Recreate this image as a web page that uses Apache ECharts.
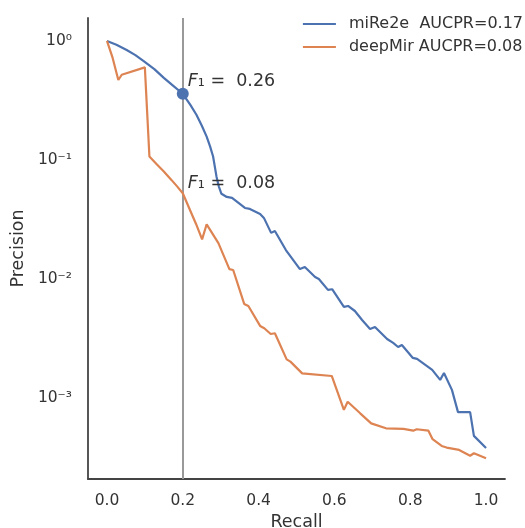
<!DOCTYPE html>
<html>
<head>
<meta charset="utf-8">
<script src="https://cdn.jsdelivr.net/npm/echarts@6/dist/echarts.min.js"></script>
<style>html,body{margin:0;padding:0;background:#fff;}#chart{width:525px;height:528px;}</style>
</head>
<body>
<div id="chart"></div>
<script>
// ---- data ----
const seriesNames = ['miRe2e  AUCPR=0.17', 'deepMir AUCPR=0.08'];
const recallBlue = [0, 0.025, 0.052, 0.075, 0.096, 0.125, 0.15, 0.175, 0.2, 0.22, 0.236, 0.25, 0.263, 0.272, 0.280, 0.289, 0.295, 0.302, 0.316, 0.330, 0.332, 0.364, 0.377, 0.404, 0.414, 0.433, 0.443, 0.472, 0.509, 0.522, 0.549, 0.559, 0.583, 0.594, 0.625, 0.636, 0.654, 0.673, 0.694, 0.707, 0.739, 0.755, 0.768, 0.778, 0.807, 0.818, 0.858, 0.879, 0.889, 0.910, 0.926, 0.958, 0.968, 1.0];
const precisionBlue = [1, 0.93, 0.84, 0.76, 0.68, 0.58, 0.49, 0.42, 0.36, 0.29, 0.24, 0.195, 0.157, 0.13, 0.107, 0.0724, 0.06, 0.052, 0.0489, 0.048, 0.0489, 0.0395, 0.0388, 0.0352, 0.0326, 0.0244, 0.0253, 0.0175, 0.0121, 0.0126, 0.0104, 0.0100, 0.0081, 0.0082, 0.00582, 0.00593, 0.00538, 0.00452, 0.0038, 0.00395, 0.00313, 0.0029, 0.00268, 0.00279, 0.00217, 0.00213, 0.00172, 0.00142, 0.00162, 0.00117, 0.00076, 0.00076, 0.00048, 0.00038];
const recallOrange = [0, 0.015, 0.030, 0.039, 0.100, 0.112, 0.13, 0.15, 0.17, 0.185, 0.200, 0.219, 0.235, 0.251, 0.263, 0.294, 0.323, 0.333, 0.362, 0.373, 0.404, 0.415, 0.432, 0.443, 0.474, 0.484, 0.515, 0.593, 0.596, 0.625, 0.635, 0.668, 0.697, 0.736, 0.782, 0.808, 0.817, 0.848, 0.859, 0.883, 0.896, 0.929, 0.958, 0.968, 1.0];
const precisionOrange = [1, 0.72, 0.47, 0.52, 0.60, 0.107, 0.093, 0.08, 0.068, 0.06, 0.0525, 0.038, 0.029, 0.0215, 0.0288, 0.020, 0.0121, 0.0119, 0.00617, 0.00593, 0.00403, 0.00385, 0.00345, 0.0035, 0.00211, 0.00202, 0.00161, 0.00153, 0.00151, 0.000794, 0.00093, 0.000743, 0.000612, 0.000556, 0.00055, 0.000531, 0.000546, 0.000531, 0.00045, 0.000395, 0.000383, 0.000366, 0.000327, 0.000343, 0.000311];
const f1Recall = 0.2;
const f1Precision = [0.36, 0.05];
const f1Scores = ['0.26', '0.08'];
const xTickLabels = ['0.0', '0.2', '0.4', '0.6', '0.8', '1.0'];
const yTickLabels = {'0': '10⁰', '-1': '10⁻¹', '-2': '10⁻²', '-3': '10⁻³'};

const BLUE = '#4C72B0', ORANGE = '#DD8452', TEXT = '#333';
const zip = (a, b) => a.map((v, i) => [v, b[i]]);

const chart = echarts.init(document.getElementById('chart'), null, {renderer: 'canvas'});
chart.setOption({
  animation: false,
  backgroundColor: '#fff',
  textStyle: {fontFamily: 'DejaVu Sans', color: TEXT},
  grid: {left: 88, right: 20, top: 18, bottom: 49, containLabel: false, outerBoundsMode: 'none'},
  legend: {
    data: [
      {name: seriesNames[0], icon: 'rect', itemStyle: {color: BLUE}},
      {name: seriesNames[1], icon: 'rect', itemStyle: {color: ORANGE}}
    ],
    orient: 'vertical',
    right: 2, top: 15, padding: 0,
    itemWidth: 33, itemHeight: 2.2, itemGap: 5,
    align: 'left',
    textStyle: {fontSize: 16, lineHeight: 18, color: TEXT, fontFamily: 'DejaVu Sans', padding: [0, 0, 0, 8]}
  },
  xAxis: {
    type: 'value', min: -0.05, max: 1.05,
    name: 'Recall', nameLocation: 'middle', nameGap: 33,
    nameTextStyle: {fontSize: 17.5, color: TEXT},
    axisLine: {onZero: false, lineStyle: {color: '#444', width: 1.8}},
    axisTick: {show: false},
    splitLine: {show: false},
    axisLabel: {
      fontSize: 15.5, color: TEXT, margin: 14,
      showMinLabel: false, showMaxLabel: false,
      formatter: v => { const i = Math.round(v / 0.2); return Math.abs(v - i * 0.2) < 1e-6 ? (xTickLabels[i] || '') : ''; }
    }
  },
  yAxis: {
    type: 'log', logBase: 10,
    min: Math.pow(10, -3.681), max: Math.pow(10, 0.193),
    name: 'Precision', nameLocation: 'middle', nameGap: 53,
    nameTextStyle: {fontSize: 17.5, color: TEXT},
    axisLine: {show: true, onZero: false, lineStyle: {color: '#444', width: 1.8}},
    axisTick: {show: false},
    minorTick: {show: false},
    splitLine: {show: false},
    axisLabel: {
      fontSize: 15.5, color: TEXT, margin: 16,
      showMinLabel: false, showMaxLabel: false,
      formatter: v => { const e = Math.round(Math.log10(v)); return Math.abs(Math.log10(v) - e) < 1e-6 ? (yTickLabels[String(e)] || '') : ''; }
    }
  },
  series: [
    {
      name: seriesNames[0], type: 'line', data: zip(recallBlue, precisionBlue),
      symbol: 'none', showSymbol: false, smooth: false,
      lineStyle: {color: BLUE, width: 2.2}, itemStyle: {color: BLUE}, z: 3
    },
    {
      name: seriesNames[1], type: 'line', data: zip(recallOrange, precisionOrange),
      symbol: 'none', showSymbol: false, smooth: false,
      lineStyle: {color: ORANGE, width: 2.2}, itemStyle: {color: ORANGE}, z: 3
    },
    {
      name: 'f1', type: 'scatter', z: 4,
      itemStyle: {opacity: 1},
      data: [
        {value: [f1Recall, f1Precision[0]], symbolSize: 12, itemStyle: {color: BLUE, opacity: 1}},
        {value: [f1Recall, f1Precision[1]], symbolSize: 0, itemStyle: {color: BLUE, opacity: 1}}
      ],
      label: {
        show: true, position: 'inside', align: 'left', verticalAlign: 'middle', offset: [5, -12],
        fontSize: 17.5, color: TEXT, fontFamily: 'DejaVu Sans',
        formatter: p => '{it|F}₁ =  ' + f1Scores[p.dataIndex],
        rich: {it: {fontStyle: 'italic', fontSize: 17.5, color: TEXT, fontFamily: 'DejaVu Sans'}}
      },
      markLine: {
        silent: true, symbol: 'none', z: 2,
        label: {show: false},
        lineStyle: {color: '#999', width: 2, type: 'solid'},
        data: [{xAxis: f1Recall}]
      }
    }
  ]
});
</script>
</body>
</html>
